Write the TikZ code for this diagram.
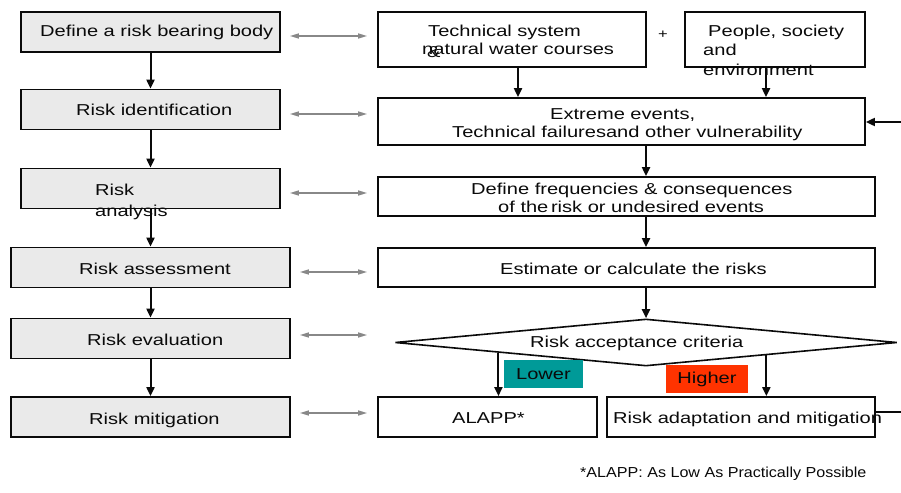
\documentclass[tikz,border=0pt]{standalone}
\usepackage{fontspec}
\setmainfont{Liberation Sans}[FakeStretch=1.27]
\newfontfamily\notefont{Liberation Sans}[FakeStretch=1.11]
\usetikzlibrary{shapes.geometric,arrows.meta,calc}
\definecolor{ink}{HTML}{0A0A0A}
\definecolor{boxgrey}{HTML}{EAEAEA}
\definecolor{linkgrey}{HTML}{888888}
\definecolor{lowteal}{HTML}{009A98}
\definecolor{highred}{HTML}{FF3300}
\begin{document}
\begin{tikzpicture}[x=1pt,y=-1pt,
  every node/.style={font=\fontsize{15.8}{19}\selectfont, text=ink},
  lbox/.style={draw=ink, line width=1.8pt, fill=boxgrey, minimum height=40pt, inner sep=0},
  rbox/.style={draw=ink, line width=1.8pt, fill=white, inner sep=0},
  txt/.style={anchor=base west, inner sep=0},
  flow/.style={line width=2pt, draw=ink, -{Triangle[length=9pt,width=8pt]}},
  link/.style={line width=1.4pt, draw=linkgrey,
    {Triangle[length=9pt,width=5pt]}-{Triangle[length=9pt,width=5pt]},
    shorten <=9pt, shorten >=10pt},
  tag/.style={inner sep=0, minimum height=28pt}
]
\fill[white] (0,0) rectangle (901,492);
\useasboundingbox (0,0) rectangle (901,492);

% ---- left column: process steps ----
\node[lbox, minimum width=259pt] (b1) at (150.5,32) {};
\node[lbox, minimum width=259pt] (b2) at (150.5,109.5) {};
\node[lbox, minimum width=259pt] (b3) at (150.5,188.5) {};
\node[lbox, minimum width=279pt] (b4) at (150.5,267.5) {};
\node[lbox, minimum width=279pt] (b5) at (150.5,338.5) {};
\node[lbox, minimum width=279pt] (b6) at (150.5,417) {};

\node[txt] (t1) at (40,37) {Define a risk bearing body};
\node[txt] (t2) at (76,116) {Risk identification};
\node[txt] (t3a) at (95,195) {Risk};
\node[txt] (t3b) at (95,216) {analysis};
\node[txt] (t4) at (79,274) {Risk assessment};
\node[txt] (t5) at (87,345) {Risk evaluation};
\node[txt] (t6) at (89,424) {Risk mitigation};

\draw[flow] (b1.south) -- (b2.north);
\draw[flow] (b2.south) -- (b3.north);
\draw[flow] (b3.south) -- (b4.north);
\draw[flow] (b4.south) -- (b5.north);
\draw[flow] (b5.south) -- (b6.north);

% ---- right column: content of each step ----
\node[rbox, minimum width=268pt, minimum height=55pt] (tech) at (512,39.5) {};
\node[rbox, minimum width=180pt, minimum height=55pt] (ppl) at (775,39.5) {};
\node[rbox, minimum width=487pt, minimum height=47pt] (ext) at (621.5,121.5) {};
\node[rbox, minimum width=497pt, minimum height=39pt] (def) at (626.5,196.5) {};
\node[rbox, minimum width=497pt, minimum height=39pt] (est) at (626.5,267.5) {};
\node[diamond, draw=ink, line width=1.6pt, fill=white, inner sep=0,
      minimum width=502pt, minimum height=47pt] (dia) at (646,342.5) {};
\node[rbox, minimum width=219pt, minimum height=40pt] (alapp) at (487.5,417) {};
\node[rbox, minimum width=268pt, minimum height=40pt] (adapt) at (741,417) {};

\node[font=\fontsize{13}{15}\selectfont, inner sep=0] (plus) at (663,35) {+};

\node[txt] (tt1) at (428,37) {Technical system};
\node[txt] (tt2) at (422,55) {natural water courses};
\node[txt] (tt3) at (427,58) {\&};
\node[txt] (tp1) at (708,37) {People, society};
\node[txt] (tp2) at (703,55.5) {and};
\node[txt] (tp3) at (703,76) {environment};
\node[txt] (te1) at (550,119) {Extreme events,};
\node[txt] (te2) at (452,137) {Technical failuresand other vulnerability};
\node[txt] (td1) at (471,194) {Define frequencies \& consequences};
\node[txt] (td2) at (498,212) {of the\,risk or undesired events};
\node[txt] (ts) at (500,274) {Estimate or calculate the risks};
\node[txt] (tc) at (530,347) {Risk acceptance criteria};
\node[txt] (ta) at (452,423) {ALAPP*};
\node[txt] (tm) at (613,423) {Risk adaptation and mitigation};

% flow through the right column
\draw[flow] ([xshift=6pt]tech.south) -- ([xshift=6pt]tech.south |- ext.north);
\draw[flow] ([xshift=-9pt]ppl.south) -- ([xshift=-9pt]ppl.south |- ext.north);
\draw[flow] (dia.north |- ext.south) -- (dia.north |- def.north);
\draw[flow] (dia.north |- def.south) -- (dia.north |- est.north);
\draw[flow] (dia.north |- est.south) -- (dia.north);

\coordinate (lowstart) at ($(dia.west)!0.414!(dia.south)$);
\coordinate (highstart) at ($(dia.south)!0.478!(dia.east)$);
\draw[flow] (lowstart) -- (lowstart |- alapp.north);
\draw[flow] (highstart) -- (highstart |- adapt.north);

\node[tag, fill=lowteal, minimum width=79pt] (lower) at (543.5,374) {Lower};
\node[tag, fill=highred, minimum width=82pt] (higher) at (707,379) {Higher};

% feedback loop leaving and re-entering at the right
\coordinate (fbin) at (901,122);
\coordinate (fbout) at (901,412);
\draw[flow] (fbin) -- (ext.east |- fbin);
\draw[line width=2pt, draw=ink] ([yshift=5pt]adapt.east) -- (fbout);

% ---- links between the two columns ----
\draw[link] ([yshift=-4pt]b1.east) -- ([yshift=-4pt]b1.east -| tech.west);
\draw[link] ([yshift=-4.5pt]b2.east) -- ([yshift=-4.5pt]b2.east -| tech.west);
\draw[link] ([yshift=-4.5pt]b3.east) -- ([yshift=-4.5pt]b3.east -| tech.west);
\draw[link] ([yshift=-4.5pt]b4.east) -- ([yshift=-4.5pt]b4.east -| tech.west);
\draw[link] ([yshift=3.5pt]b5.east) -- ([yshift=3.5pt]b5.east -| tech.west);
\draw[link] ([yshift=4pt]b6.east) -- ([yshift=4pt]b6.east -| tech.west);

% footnote
\node[txt, font=\notefont\fontsize{14.5}{17}\selectfont] (note) at (580,477)
  {*ALAPP: As Low As Practically Possible};
\end{tikzpicture}
\end{document}
